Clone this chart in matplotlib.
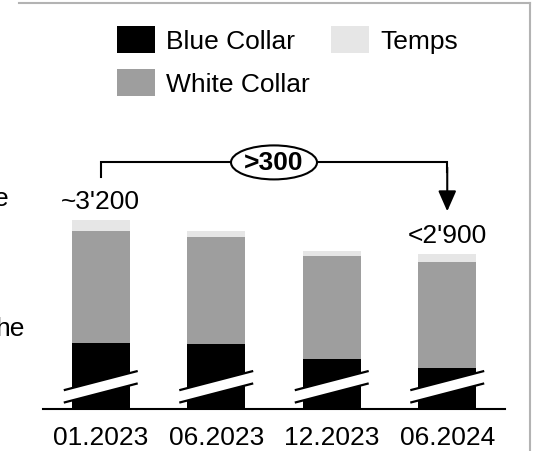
import matplotlib.pyplot as plt
from matplotlib.patches import Ellipse, Polygon
from matplotlib.lines import Line2D

plt.rcParams['font.family'] = ['Liberation Sans', 'DejaVu Sans']

# Data (headcount); blue collar axis is broken at axis_break
periods = ['01.2023', '06.2023', '12.2023', '06.2024']
blue_collar = [2100, 2085, 1955, 1875]
white_collar = [1005, 970, 925, 950]
temps = [95, 50, 45, 70]
axis_break = 1500
total_labels = ["~3'200", '', '', "<2'900"]
delta_label = '>300'
series_names = ['Blue Collar', 'White Collar', 'Temps']
colors = ['#000000', '#9e9e9e', '#e6e6e6']

W, H = 536, 452
fig = plt.figure(figsize=(W / 100, H / 100), dpi=100)
ax = fig.add_axes([43 / W, 41.7 / H, 462 / W, 0.9])
px = 9  # data units per pixel
ax.set_xlim(-0.5, 3.5)
ax.set_ylim(0, 0.9 * H * px)

x = list(range(len(periods)))
blue_vis = [b - axis_break for b in blue_collar]
white_bottom = blue_vis
temps_bottom = [b + w for b, w in zip(blue_vis, white_collar)]
totals_vis = [t + tb for t, tb in zip(temps, temps_bottom)]

h1 = ax.bar(x, blue_vis, 0.5, color=colors[0], zorder=2)
h2 = ax.bar(x, white_collar, 0.5, bottom=white_bottom, color=colors[1], zorder=2)
h3 = ax.bar(x, temps, 0.5, bottom=temps_bottom, color=colors[2], zorder=2)

# axis break marks
half = 0.32
slope = 0.26 * px * 115.5
mid = 22.5 * px
gap = 6.2 * px
for i in x:
    xs = [i - half, i + half]
    lo = [mid - gap - slope * half, mid - gap + slope * half]
    hi = [mid + gap - slope * half, mid + gap + slope * half]
    ax.add_patch(Polygon([(xs[0], lo[0]), (xs[1], lo[1]), (xs[1], hi[1]), (xs[0], hi[0])],
                         closed=True, fc='white', ec='none', zorder=3, clip_on=False))
    ax.plot(xs, lo, color='black', lw=1.6, zorder=4, solid_capstyle='butt')
    ax.plot(xs, hi, color='black', lw=1.6, zorder=4, solid_capstyle='butt')

# total labels
for i, lab in zip(x, total_labels):
    if lab:
        ax.text(i, totals_vis[i] + 12 * px, lab, ha='center', va='baseline', fontsize=19)

# bracket with arrow
y_start = totals_vis[0] + 43 * px
y_br = totals_vis[0] + 58 * px
tip = totals_vis[3] + 43 * px
ax.plot([0, 0, 3, 3], [y_start, y_br, y_br, y_br - 10 * px], color='black', lw=1.5,
        solid_joinstyle='miter', zorder=3)
ax.annotate('', xy=(3, tip), xytext=(3, y_br - 5 * px),
            arrowprops=dict(arrowstyle='-|>,head_length=1.25,head_width=0.55', mutation_scale=10,
                            color='black', lw=1.5, shrinkA=0, shrinkB=0))
ax.add_patch(Ellipse((1.5, y_br), 86 / 115.5, 34 * px, fc='white', ec='black', lw=1.5, zorder=4))
ax.text(1.5, y_br, delta_label, ha='center', va='center', fontsize=19, fontweight='bold', zorder=5)

# axes styling
for s in ['top', 'left', 'right']:
    ax.spines[s].set_visible(False)
ax.spines['bottom'].set_linewidth(1.5)
ax.spines['bottom'].set_zorder(5)
ax.set_yticks([])
ax.set_xticks(x, periods, fontsize=19)
ax.tick_params(axis='x', length=0, pad=11)

leg = fig.legend([h1, h2, h3], series_names, ncol=2, loc='upper left',
                 bbox_to_anchor=(117 / W, 1 - 26.7 / H), frameon=False, fontsize=19,
                 handlelength=1.45, handleheight=1.2, handletextpad=0.42,
                 columnspacing=0.8, labelspacing=0.6, borderpad=0, borderaxespad=0)

# cut-off text from neighbouring panel
fig.text(8.5 / W, 1 - 206 / H, 'e', ha='right', va='baseline', fontsize=19)
fig.text(24.6 / W, 1 - 336 / H, 'he', ha='right', va='baseline', fontsize=19)

# frame of the panel
fig.add_artist(Line2D([18.5 / W, 530 / W], [1 - 4 / H, 1 - 4 / H], color='#b3b3b3', lw=1.5))
fig.add_artist(Line2D([530 / W, 530 / W], [1 - 4 / H, 0], color='#b3b3b3', lw=1.5))

fig.savefig('out.png', dpi=100)
